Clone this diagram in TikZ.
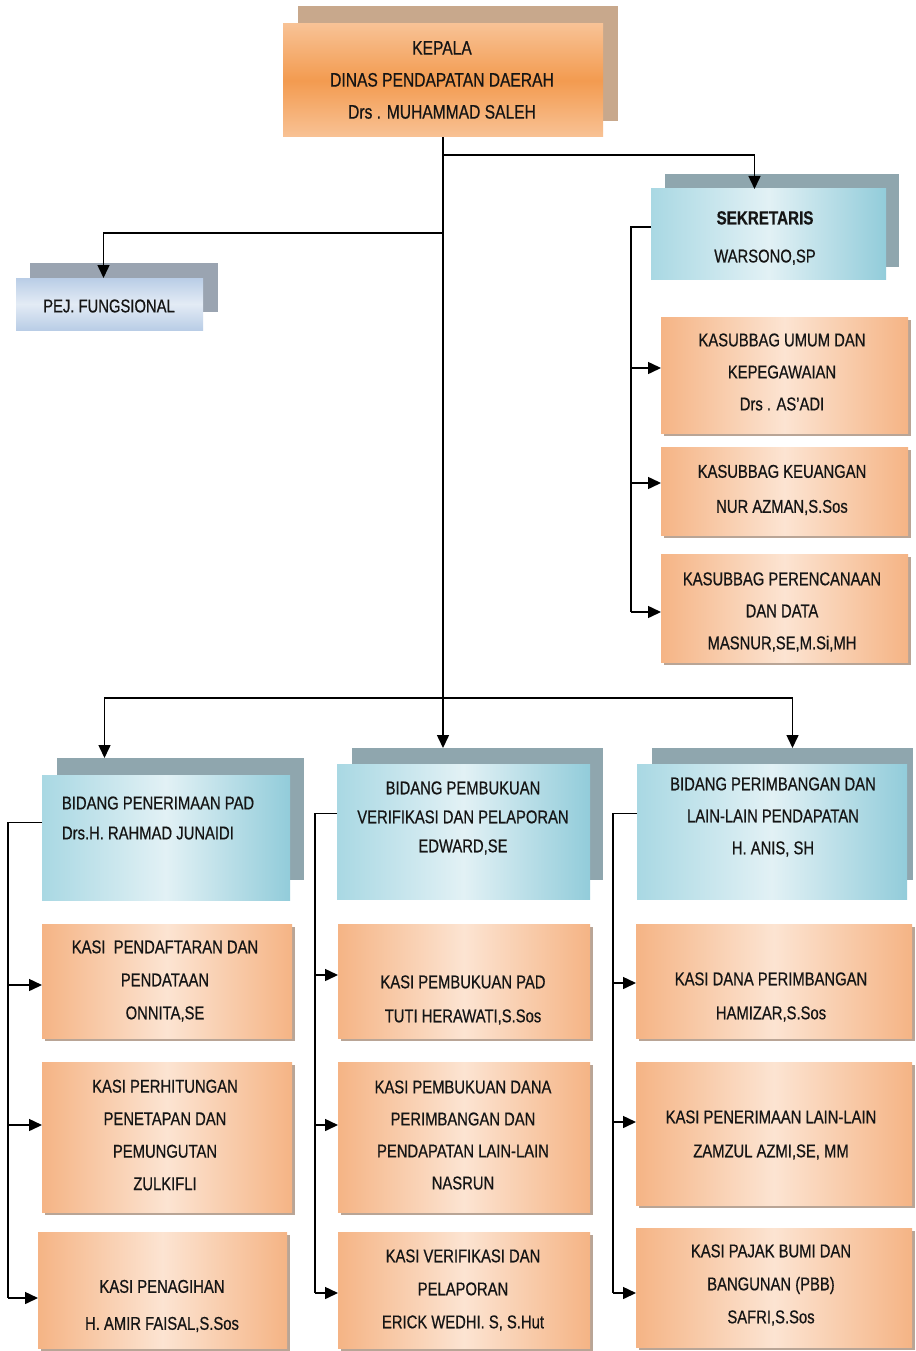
\documentclass[tikz,border=0pt]{standalone}
\usepackage{fontspec}
\setmainfont{Liberation Sans}[FakeStretch=0.8,FakeBold=0.6]
\usetikzlibrary{arrows.meta,shadows,calc}
\definecolor{txtc}{HTML}{151515}
\definecolor{kpA}{HTML}{F8C295}
\definecolor{kpB}{HTML}{F39B50}
\definecolor{kpSh}{HTML}{C8A88C}
\definecolor{blA}{HTML}{A9D8E3}
\definecolor{blB}{HTML}{E2F1F5}
\definecolor{blC}{HTML}{92CCDA}
\definecolor{blSh}{HTML}{8FA6AE}
\definecolor{pjA}{HTML}{B9CDE6}
\definecolor{pjB}{HTML}{E3EBF5}
\definecolor{pjSh}{HTML}{9AA4B1}
\definecolor{orA}{HTML}{F5B485}
\definecolor{orB}{HTML}{FCE4D2}
\definecolor{orSh}{HTML}{B9A596}
\newcommand\mkbox[6]{\node[#2,minimum width={(#5)-(#3)},minimum height={(#6)-(#4)}] (#1) at ({((#3)+(#5))/2},{((#4)+(#6))/2}) {};}
\newcommand\branchto[3]{\coordinate (tmpb) at ([yshift=#3]#2.west); \draw[arr] (tmpb -| #1) -- (tmpb);}
\begin{document}
\begin{tikzpicture}[x=1pt,y=-1pt,
  every node/.style={inner sep=0pt,outer sep=0pt},
  back/.style={draw=none,rectangle},
  kepsh/.style={back,fill=kpSh},
  kepfr/.style={back,top color=kpA,bottom color=kpA,middle color=kpB},
  blsh/.style={back,fill=blSh},
  blfr/.style={back,left color=blA,right color=blC,middle color=blB},
  pjsh/.style={back,fill=pjSh},
  pjfr/.style={back,top color=pjA,bottom color=pjA,middle color=pjB},
  orbox/.style={back,left color=orA,right color=orA,middle color=orB,drop shadow={shadow xshift=3pt,shadow yshift=-3pt,fill=orSh,opacity=1}},
  txt/.style={align=center,text=txtc,font=\fontsize{18.5}{33}\selectfont},
  conn/.style={line width=1.5pt,draw=black},
  arr/.style={conn,-{Triangle[length=13pt,width=12pt]}},
]
\useasboundingbox[fill=white] (0,0) rectangle (915,1351);

% shadows of main boxes
\mkbox{kepsh}{kepsh}{298}{6}{618}{121}
\mkbox{seksh}{blsh}{665}{174}{899}{267}
\mkbox{pejsh}{pjsh}{30}{263}{218}{312}
\mkbox{bid1sh}{blsh}{57}{758}{304}{880}
\mkbox{bid2sh}{blsh}{352}{748}{603}{880}
\mkbox{bid3sh}{blsh}{652}{748}{913}{880}

% front boxes
\mkbox{kep}{kepfr}{283}{24}{603}{137}
\mkbox{sek}{blfr}{651}{189}{886}{279}
\mkbox{pej}{pjfr}{16}{278}{203}{330}
\mkbox{ks1}{orbox}{661}{317}{908}{433}
\mkbox{ks2}{orbox}{661}{447}{908}{535}
\mkbox{ks3}{orbox}{661}{554}{908}{662}
\mkbox{bid1}{blfr}{42}{775}{290}{900}
\mkbox{bid2}{blfr}{337}{764}{590}{899}
\mkbox{bid3}{blfr}{637}{764}{907}{899}
\mkbox{c1a}{orbox}{42}{924}{292}{1038}
\mkbox{c1b}{orbox}{42}{1062}{292}{1212}
\mkbox{c1c}{orbox}{38}{1232}{287}{1348}
\mkbox{c2a}{orbox}{338}{924}{590}{1038}
\mkbox{c2b}{orbox}{338}{1062}{590}{1212}
\mkbox{c2c}{orbox}{338}{1232}{590}{1348}
\mkbox{c3a}{orbox}{636}{924}{912}{1038}
\mkbox{c3b}{orbox}{636}{1062}{912}{1205}
\mkbox{c3c}{orbox}{636}{1228}{912}{1347}

% texts
\node[txt,font=\fontsize{19.5}{32}\selectfont] (tkep) at (442,80) {KEPALA\\DINAS PENDAPATAN DAERAH\\Drs . MUHAMMAD SALEH};
\node[txt,font=\fontsize{18.5}{38}\selectfont] (tsek) at (765,238) {{\fontsize{19}{38}\selectfont\bfseries SEKRETARIS}\\WARSONO,SP};
\node[txt] (tpej) at (109,306) {PEJ. FUNGSIONAL};
\node[txt,font=\fontsize{18.5}{32}\selectfont] (tks1) at (782,372) {KASUBBAG UMUM DAN\\KEPEGAWAIAN\\Drs . AS’ADI};
\node[txt,font=\fontsize{18.5}{35}\selectfont] (tks2) at (782,490) {KASUBBAG KEUANGAN\\NUR AZMAN,S.Sos};
\node[txt,font=\fontsize{18.5}{32}\selectfont] (tks3) at (782,612) {KASUBBAG PERENCANAAN\\DAN DATA\\MASNUR,SE,M.Si,MH};
\node[txt,align=left,anchor=west,font=\fontsize{18.5}{30}\selectfont] (tbid1) at (62,818) {BIDANG PENERIMAAN PAD\\Drs.H. RAHMAD JUNAIDI};
\node[txt,font=\fontsize{18.5}{29}\selectfont] (tbid2) at (463,818) {BIDANG PEMBUKUAN\\VERIFIKASI DAN PELAPORAN\\EDWARD,SE};
\node[txt,font=\fontsize{18.5}{32}\selectfont] (tbid3) at (773,817) {BIDANG PERIMBANGAN DAN\\LAIN-LAIN PENDAPATAN\\H. ANIS, SH};
\node[txt] (tc1a) at (165,981) {KASI\ \ PENDAFTARAN DAN\\PENDATAAN\\ONNITA,SE};
\node[txt,font=\fontsize{18.5}{32.5}\selectfont] (tc1b) at (165,1135) {KASI PERHITUNGAN\\PENETAPAN DAN\\PEMUNGUTAN\\ZULKIFLI};
\node[txt,font=\fontsize{18.5}{37}\selectfont] (tc1c) at (162,1306) {KASI PENAGIHAN\\H. AMIR FAISAL,S.Sos};
\node[txt,font=\fontsize{18.5}{34}\selectfont] (tc2a) at (463,1000) {KASI PEMBUKUAN PAD\\TUTI HERAWATI,S.Sos};
\node[txt,font=\fontsize{18.5}{32}\selectfont] (tc2b) at (463,1135) {KASI PEMBUKUAN DANA\\PERIMBANGAN DAN\\PENDAPATAN LAIN-LAIN\\NASRUN};
\node[txt] (tc2c) at (463,1290) {KASI VERIFIKASI DAN\\PELAPORAN\\ERICK WEDHI. S, S.Hut};
\node[txt,font=\fontsize{18.5}{34}\selectfont] (tc3a) at (771,997) {KASI DANA PERIMBANGAN\\HAMIZAR,S.Sos};
\node[txt,font=\fontsize{18.5}{34}\selectfont] (tc3b) at (771,1135) {KASI PENERIMAAN LAIN-LAIN\\ZAMZUL AZMI,SE, MM};
\node[txt] (tc3c) at (771,1285) {KASI PAJAK BUMI DAN\\BANGUNAN (PBB)\\SAFRI,S.Sos};

% junctions
\coordinate (j1) at (443,155);
\coordinate (j2) at (443,233);
\coordinate (j3) at (443,698);
\coordinate (sv) at (631,612);
\coordinate (v1) at (8,1298);
\coordinate (v2) at (315,1293);
\coordinate (v3) at (613,1293);

% main connectors
\draw[arr] (kep.south) -- (kep.south |- bid2sh.north);
\draw[arr] (j1) -| ([xshift=-14pt]sek.north);
\draw[arr] (j2) -| ([xshift=-6pt]pej.north);
\draw[arr] (j3) -| ([xshift=-76pt]bid1sh.north);
\draw[arr] (j3) -| ([xshift=10pt]bid3sh.north);

% sekretaris bracket
\draw[conn] ([yshift=7pt]sek.west) -| (sv);
\branchto{sv}{ks1}{7pt}
\branchto{sv}{ks2}{8pt}
\branchto{sv}{ks3}{-4pt}

% bidang brackets
\draw[conn] ([yshift=15pt]bid1.west) -| (v1);
\branchto{v1}{c1a}{-4pt}
\branchto{v1}{c1b}{12pt}
\branchto{v1}{c1c}{-8pt}

\draw[conn] ([yshift=18pt]bid2.west) -| (v2);
\branchto{v2}{c2a}{6pt}
\branchto{v2}{c2b}{12pt}
\branchto{v2}{c2c}{-3pt}

\draw[conn] ([yshift=18pt]bid3.west) -| (v3);
\branchto{v3}{c3a}{-2pt}
\branchto{v3}{c3b}{11.5pt}
\branchto{v3}{c3c}{-5.5pt}
\end{tikzpicture}
\end{document}
